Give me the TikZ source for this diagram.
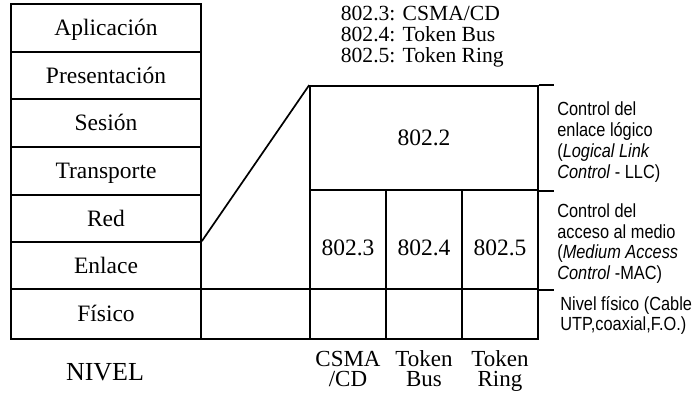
\documentclass[tikz,border=0pt]{standalone}
\usepackage{fontspec}
\setmainfont{Liberation Serif}
\newfontfamily\condsans{Liberation Sans}[FakeStretch=0.86]
\begin{document}
\begin{tikzpicture}[x=1pt, y=-1pt, line width=1.7pt,
  cell/.style={draw, inner sep=0pt, text height=15.5pt, text depth=0pt,
    font=\fontsize{23.5pt}{26pt}\selectfont},
  lowcell/.style={cell, text height=31pt},
  note/.style={inner sep=0pt, align=left, anchor=base west,
    font=\condsans\fontsize{19pt}{20.6pt}\selectfont},
  caption/.style={inner sep=0pt, align=center, anchor=base,
    font=\fontsize{23pt}{19.5pt}\selectfont}]
\useasboundingbox (0,0) rectangle (700,392);

% OSI stack
\node[cell, minimum width=190pt, minimum height=48pt] (apl) at (106,28)    {Aplicación};
\node[cell, minimum width=190pt, minimum height=47pt] (pre) at (106,75.5)  {Presentación};
\node[cell, minimum width=190pt, minimum height=48pt] (ses) at (106,123)   {Sesión};
\node[cell, minimum width=190pt, minimum height=48pt] (tra) at (106,171)   {Transporte};
\node[cell, minimum width=190pt, minimum height=47pt] (red) at (106,218.5) {Red};
\node[cell, minimum width=190pt, minimum height=47pt] (enl) at (106,265.5) {Enlace};
\node[cell, minimum width=190pt, minimum height=50pt] (fis) at (106,314)   {Físico};

% IEEE 802 blocks
\node[cell, minimum width=228pt, minimum height=104pt] (llc) at (424,138) {802.2};
\node[lowcell, minimum width=76pt, minimum height=99pt] (m3) at (348,239.5) {802.3};
\node[lowcell, minimum width=76pt, minimum height=99pt] (m4) at (424,239.5) {802.4};
\node[lowcell, minimum width=76pt, minimum height=99pt] (m5) at (500,239.5) {802.5};
\node[cell, minimum width=109pt, minimum height=50pt] (p0) at (255.5,314) {};
\node[cell, minimum width=76pt, minimum height=50pt] (p3) at (348,314) {};
\node[cell, minimum width=76pt, minimum height=50pt] (p4) at (424,314) {};
\node[cell, minimum width=76pt, minimum height=50pt] (p5) at (500,314) {};

% link layer expanded into the 802 sublayers
\draw (enl.north east) -- (llc.north west);
\draw (llc.north east) -- ++(15,0);
\draw (llc.south east) -- ++(15,0);
\draw (m5.south east) -- ++(15,0);

% legends (base anchor sits on the last line)
\node[inner sep=0pt, align=left, anchor=base west,
  font=\fontsize{21.6pt}{21pt}\selectfont] (std) at (340,62.7)
  {802.3: CSMA/CD\\802.4: Token Bus\\802.5: Token Ring};
\node[note, font=\condsans\fontsize{19pt}{20.9pt}\selectfont] (llcnote) at (556.5,178.4)
  {Control del\\enlace lógico\\(\textit{Logical Link}\\\textit{Control} - LLC)};
\node[note] (macnote) at (556.5,279.2)
  {Control del\\acceso al medio\\(\textit{Medium Access}\\\textit{Control} -MAC)};
\node[note, font=\condsans\fontsize{19pt}{20.2pt}\selectfont] (phynote) at (559.5,330.2)
  {Nivel físico (Cable\\UTP,coaxial,F.O.)};

\node[inner sep=0pt, anchor=base, font=\fontsize{26pt}{28pt}\selectfont]
  (nivel) at (105,380) {NIVEL};
\node[caption] (c3) at (348,386) {CSMA\\/CD};
\node[caption] (c4) at (424,386) {Token\\Bus};
\node[caption] (c5) at (500,386) {Token\\Ring};
\end{tikzpicture}
\end{document}
